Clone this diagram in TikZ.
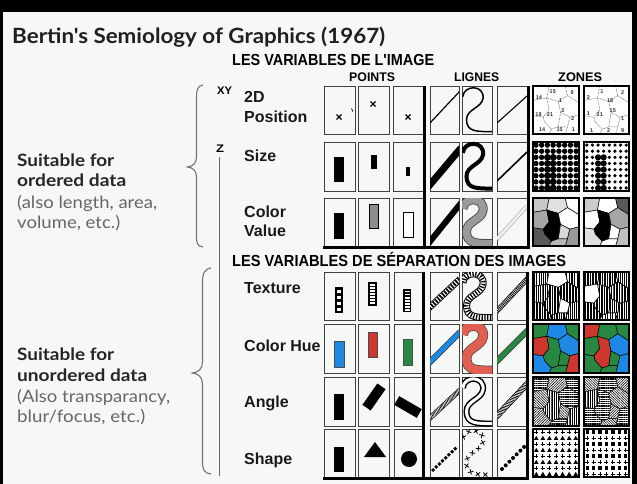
\documentclass[tikz,border=0pt]{standalone}
\usepackage{fontspec}
\usepackage{graphicx}
\setmainfont{Liberation Sans}
\newfontfamily\ralefont{Lato}
\newfontfamily\condfont[FakeStretch=0.82]{Liberation Sans}
\usetikzlibrary{decorations.markings,patterns.meta}

\definecolor{bg}{RGB}{246,248,246}
\definecolor{hueblue}{RGB}{30,136,229}
\definecolor{huered}{RGB}{205,55,45}
\definecolor{huegreen}{RGB}{40,135,65}
\definecolor{sred}{RGB}{225,95,80}

% stretch a text horizontally to a given width, keeping its height
\newcommand\fitw[2]{\resizebox{#1}{\height}{#2}}
% the S-shaped line, in unit cell coordinates
\newcommand\Scurve{(0.03,0.22) .. controls (0.06,-0.03) and (0.76,-0.03) .. (0.7,0.26) .. controls (0.65,0.46) and (0.15,0.48) .. (0.15,0.7) .. controls (0.15,0.96) and (0.5,0.95) .. (1.02,0.95)}
\newcommand\Scell[3]{\begin{scope}\clip (462,#1) rectangle (492,#1+#2);\begin{scope}[shift={(462,#1)},x=30pt,y=-#2pt]#3\end{scope}\end{scope}}
\newcommand\clipcell[5]{\begin{scope}\clip (#1,#2) rectangle (#3,#4);#5\end{scope}}
\newcommand\xmark[2]{\draw[line width=1.3pt] (#1-2.5,#2-2.5)--(#1+2.5,#2+2.5) (#1-2.5,#2+2.5)--(#1+2.5,#2-2.5);}
% a small map of ten regions in the unit square
\newcommand\drawmap{%
\path[medge,r1] (0,0)--(0.35,0)--(0.3,0.25)--(0,0.3)--cycle;
\path[medge,r2] (0.35,0)--(0.7,0)--(0.75,0.2)--(0.55,0.32)--(0.3,0.25)--cycle;
\path[medge,r3] (0.7,0)--(1,0)--(1,0.35)--(0.75,0.2)--cycle;
\path[medge,r4] (0,0.3)--(0.3,0.25)--(0.35,0.5)--(0.22,0.65)--(0,0.62)--cycle;
\path[medge,r5] (0.3,0.25)--(0.55,0.32)--(0.6,0.55)--(0.55,0.85)--(0.4,0.9)--(0.25,0.75)--(0.22,0.65)--(0.35,0.5)--cycle;
\path[medge,r6] (0.55,0.32)--(0.75,0.2)--(1,0.35)--(1,0.6)--(0.8,0.65)--(0.6,0.55)--cycle;
\path[medge,r7] (0,0.62)--(0.22,0.65)--(0.25,0.75)--(0.4,0.9)--(0.35,1)--(0,1)--cycle;
\path[medge,r8] (0.6,0.55)--(0.8,0.65)--(0.75,0.85)--(0.55,0.85)--cycle;
\path[medge,r9] (0.8,0.65)--(1,0.6)--(1,1)--(0.7,1)--(0.75,0.85)--cycle;
\path[medge,r10] (0.4,0.9)--(0.55,0.85)--(0.75,0.85)--(0.7,1)--(0.35,1)--cycle;
}
\newcommand\zone[5]{\begin{scope}\clip (#1,#2) rectangle ++(#3,#4);\fill[white] (#1,#2) rectangle ++(#3,#4);\begin{scope}[shift={(#1,#2)},x=#3pt,y=-#4pt,#5]\drawmap\end{scope}\end{scope}\draw[zonebox] (#1,#2) rectangle ++(#3,#4);}

\tikzset{
  cellbox/.style={draw=black!75, line width=0.8pt},
  thickrule/.style={line width=3pt, black},
  zonebox/.style={draw=black, line width=1.4pt},
  lefttxt/.style={anchor=base west, inner sep=0pt, font=\ralefont\fontsize{17}{20}\selectfont},
  rowlbl/.style={anchor=base west, inner sep=0pt, font=\bfseries\fontsize{16}{18}\selectfont, text=black!90},
  hdr/.style={anchor=base west, inner sep=0pt, font=\condfont\bfseries\fontsize{16}{18}\selectfont},
  colhdr/.style={anchor=base west, inner sep=0pt, font=\condfont\bfseries\fontsize{12.5}{14}\selectfont},
  axlbl/.style={anchor=base west, inner sep=0pt, font=\condfont\bfseries\fontsize{11}{13}\selectfont},
  numlbl/.style={inner sep=0pt, font=\bfseries\fontsize{5.5}{6}\selectfont, text=black!80},
  bracestyle/.style={draw=black!55, line width=1.1pt},
  r1/.style={}, r2/.style={}, r3/.style={}, r4/.style={}, r5/.style={},
  r6/.style={}, r7/.style={}, r8/.style={}, r9/.style={}, r10/.style={},
  medge/.style={draw=black, line width=0.5pt},
  vt/.style 2 args={pattern={Lines[angle=90,distance=#1,line width=#2]}, pattern color=black},
  vtw/.style={preaction={fill=black}, pattern={Lines[angle=90,distance=2.6pt,line width=0.9pt]}, pattern color=white},
  hat/.style={preaction={fill=white}, pattern={Lines[angle=#1,distance=1.8pt,line width=0.55pt]}, pattern color=black},
}

\begin{document}
\begin{tikzpicture}[x=1pt,y=-1pt]
\useasboundingbox (0,0) rectangle (637,484);
\fill[bg] (0,0) rectangle (637,484);
\fill[black] (0,0) rectangle (637,12);
\fill[black] (0,0) rectangle (3,484);
\fill[black] (632,0) rectangle (637,484);

% ---- title and side notes
\node[anchor=base west, inner sep=0pt, font=\ralefont\bfseries\fontsize{21}{25}\selectfont, text=black!88] (title) at (12,44) {\fitw{373pt}{Bertin's Semiology of Graphics (1967)}};

\node[lefttxt, text=black!85] (ordA) at (17,166) {\fitw{97pt}{\bfseries Suitable for}};
\node[lefttxt, text=black!85] (ordB) at (17,186) {\fitw{109pt}{\bfseries ordered data}};
\node[lefttxt, text=black!60] (ordC) at (17,208) {\fitw{140pt}{(also length, area,}};
\node[lefttxt, text=black!60] (ordD) at (17,228) {\fitw{103pt}{volume, etc.)}};
\node[lefttxt, text=black!85] (unoA) at (17,360) {\fitw{97pt}{\bfseries Suitable for}};
\node[lefttxt, text=black!85] (unoB) at (17,381) {\fitw{130pt}{\bfseries unordered data}};
\node[lefttxt, text=black!60] (unoC) at (17,402) {\fitw{153pt}{(Also transparancy,}};
\node[lefttxt, text=black!60] (unoD) at (17,422) {\fitw{128pt}{blur/focus, etc.)}};

% braces
\draw[bracestyle] (203,85) .. controls (197.5,86) and (196.5,90) .. (196.5,98) -- (196.5,157) .. controls (196.5,163) and (193,166.5) .. (187.5,167) .. controls (193,167.5) and (196.5,171) .. (196.5,177) -- (196.5,236) .. controls (196.5,244) and (197.5,246) .. (203,247);
\draw[bracestyle] (211,268) .. controls (204,269) and (202.5,274) .. (202.5,283) -- (202.5,362) .. controls (202.5,369) and (198,372.5) .. (192.5,373) .. controls (198,373.5) and (202.5,377) .. (202.5,384) -- (202.5,461) .. controls (202.5,470) and (204,473) .. (211,474);

% axis labels
\node[axlbl] (axXY) at (217,95) {\fitw{15pt}{XY}};
\node[axlbl] (axZ) at (216,153) {\fitw{8pt}{Z}};
\coordinate (zend) at (219.5,476);
\draw[black!60, line width=1.1pt] ([yshift=-4pt]axZ.south -| zend) -- (zend);

% headers
\node[hdr] (hdrA) at (232,66) {\fitw{202pt}{LES VARIABLES DE L'IMAGE}};
\node[hdr] (hdrB) at (232,266) {\fitw{334pt}{LES VARIABLES DE SÉPARATION DES IMAGES}};
\node[colhdr] (colP) at (349,82) {\fitw{46pt}{POINTS}};
\node[colhdr] (colL) at (454,82) {\fitw{45pt}{LIGNES}};
\node[colhdr] (colZ) at (558,82) {\fitw{44pt}{ZONES}};

% row labels
\node[rowlbl] (r2d) at (244,103) {2D};
\node[rowlbl] (rpos) at (244,123) {Position};
\node[rowlbl] (rsize) at (244,161) {Size};
\node[rowlbl] (rcol) at (244,217) {Color};
\node[rowlbl] (rval) at (244,236) {Value};
\node[rowlbl] (rtex) at (244,293) {Texture};
\node[rowlbl] (rhue) at (244,351) {Color Hue};
\node[rowlbl] (rang) at (244,407) {Angle};
\node[rowlbl] (rshp) at (244,464) {Shape};

% ---- cell frames
\foreach \xa/\xb in {324/355,358/389,393/423,430/459,462/492,497/527}
  \foreach \ya/\yb in {86/134,142/191,198/246}
    \draw[cellbox] (\xa,\ya) rectangle (\xb,\yb);
\foreach \xa/\xb in {324/355,358/389,394/422,430/459,462/492,497/527}
  \foreach \ya/\yb in {272/320,324/373,377/426,429/477}
    \draw[cellbox] (\xa,\ya) rectangle (\xb,\yb);

% ======== image variables: points
\xmark{339}{117}
\xmark{373}{104}
\xmark{408}{117}
\draw[line width=0.8pt] (351.5,108.5)--(352.8,111.5);
\fill (334,157) rectangle (344,182);
\fill (371,155) rectangle (377,169);
\fill (406,167) rectangle (410,176);
\fill (334,213) rectangle (344,239);
\filldraw[fill=black!45, draw=black, line width=0.8pt] (369,204) rectangle (378,228);
\filldraw[fill=white, draw=black, line width=0.9pt] (403,212) rectangle (413,237);

% ======== image variables: lines
\clipcell{430}{86}{459}{134}{\draw[line width=1.2pt] (430,123)--(460,91);}
\Scell{86}{48}{\draw[line width=1.5pt] \Scurve;}
\clipcell{497}{86}{527}{134}{\draw[line width=1.1pt] (497,123)--(527,96);}
\clipcell{430}{142}{459}{191}{\draw[line width=7pt] (428,187)--(461,148);}
\Scell{142}{49}{\draw[line width=4pt] \Scurve;}
\clipcell{497}{142}{527}{191}{\draw[line width=1.6pt] (497,181)--(527,152);}
\clipcell{430}{198}{459}{246}{\draw[line width=6pt] (428,244)--(461,203);}
\Scell{198}{48}{\draw[line width=9pt, black!75] \Scurve; \draw[line width=7.4pt, black!40] \Scurve;}
\clipcell{497}{198}{527}{246}{\draw[line width=4pt, black!30] (497,239)--(527,206); \draw[line width=2.6pt, black!6] (497,239)--(527,206);}

% ======== image variables: zones
% numbered map
\begin{scope}
\clip (533,86) rectangle (579,134);
\fill[white] (533,86) rectangle (579,134);
\begin{scope}[shift={(533,86)},x=46pt,y=-48pt,medge/.style={draw=black!60,line width=0.45pt,densely dotted}]
\drawmap
\foreach \px/\py/\t [count=\n] in {0.13/0.25/14,0.43/0.12/15,0.85/0.14/9,0.6/0.3/1,0.12/0.6/18,0.37/0.6/21,0.65/0.52/2,0.86/0.68/2,0.2/0.9/14,0.58/0.9/15,0.88/0.9/1}
  \node[numlbl] (za\n) at (\px,\py) {\t};
\end{scope}
\end{scope}
\draw[zonebox] (533,86) rectangle (579,134);
\begin{scope}
\clip (584,86) rectangle (629,134);
\fill[white] (584,86) rectangle (629,134);
\begin{scope}[shift={(584,86)},x=45pt,y=-48pt,medge/.style={draw=black!60,line width=0.45pt,densely dotted}]
\drawmap
\foreach \px/\py/\t [count=\n] in {0.1/0.25/2,0.4/0.12/1,0.58/0.3/18,0.86/0.14/2,0.1/0.57/1,0.35/0.6/21,0.64/0.52/15,0.86/0.68/1,0.17/0.92/1,0.55/0.92/2,0.86/0.92/9}
  \node[numlbl] (zb\n) at (\px,\py) {\t};
\end{scope}
\end{scope}
\draw[zonebox] (584,86) rectangle (629,134);

% halftone dots
\begin{scope}
\clip (533,142) rectangle (579,191);
\fill[white] (533,142) rectangle (579,191);
\foreach \i in {0,...,7}{\foreach \j in {0,...,7}{
  \pgfmathsetmacro\rr{and(abs(\i-2.5)<1, and(\j>1.5,\j<7.5)) ? 3.4 : 2.7}
  \fill (535.9+5.75*\i, 145.1+6.125*\j) circle[radius=\rr];
}}
\end{scope}
\draw[zonebox] (533,142) rectangle (579,191);
\begin{scope}
\clip (584,142) rectangle (629,191);
\fill[white] (584,142) rectangle (629,191);
\foreach \i in {0,...,7}{\foreach \j in {0,...,7}{
  \pgfmathsetmacro\rr{and(abs(\i-2.5)<1, and(\j>1.5,\j<7.5)) ? 3.1 : 1.8}
  \fill (586.8+5.63*\i, 145.1+6.125*\j) circle[radius=\rr];
}}
\end{scope}
\draw[zonebox] (584,142) rectangle (629,191);

% grey values
\zone{533}{198}{46}{48}{r1/.style={fill=black!22}, r2/.style={fill=black!12}, r3/.style={fill=white}, r4/.style={fill=black!35}, r5/.style={fill=black}, r6/.style={fill=white}, r7/.style={fill=black!65}, r8/.style={fill=black!15}, r9/.style={fill=black!40}, r10/.style={fill=black!28}}
\zone{584}{198}{45}{48}{r1/.style={fill=black!20}, r2/.style={fill=white}, r3/.style={fill=black!65}, r4/.style={fill=white}, r5/.style={fill=black}, r6/.style={fill=black!35}, r7/.style={fill=black!12}, r8/.style={fill=white}, r9/.style={fill=black!25}, r10/.style={fill=white}}

% ---- heavy rules of the first table
\draw[thickrule] (424.5,86) -- (424.5,248.5);
\draw[thickrule] (528,86) -- (528,248.5);
\draw[thickrule] (323,247) -- (529.5,247);

% ======== separation variables: points
\fill (335,287) rectangle (343,313);
\foreach \k in {0,...,3} \fill[white] (336.6,289.5+6*\k) rectangle (341.4,292.5+6*\k);
\fill (368,282) rectangle (377,306);
\foreach \k in {0,...,6} \fill[white] (369.6,284+3*\k) rectangle (375.4,285.5+3*\k);
\fill (403,289) rectangle (411,312);
\foreach \k in {0,...,6} \fill[white] (404.5,291+3.05*\k) rectangle (409.5,292.4+3.05*\k);

\filldraw[fill=hueblue, draw=black!70, line width=0.8pt] (334,341) rectangle (344,367);
\filldraw[fill=huered, draw=black!70, line width=0.8pt] (368,332) rectangle (377,357);
\filldraw[fill=huegreen, draw=black!70, line width=0.8pt] (403,339) rectangle (412,365);

\fill (334,394) rectangle (344,420);
\fill[rotate around={-35:(374,397)}] (369,384) rectangle (379,410);
\fill[rotate around={60:(408,407)}] (403,394) rectangle (413,420);

\fill (334,447) rectangle (344,472);
\fill (375,442) -- (386,457) -- (364,457) -- cycle;
\fill (409,459) circle[radius=8];

% ======== separation variables: lines
\clipcell{430}{272}{459}{320}{
  \draw[line width=6.5pt] (429,308)--(460,279);
  \draw[white, line width=4.8pt] (429,308)--(460,279);
  \draw[line width=4.8pt, dash pattern=on 1.7pt off 1.4pt] (429,308)--(460,279);}
\Scell{272}{48}{\draw[line width=7pt] \Scurve; \draw[white, line width=5pt] \Scurve; \draw[line width=5pt, dash pattern=on 1.3pt off 1.5pt] \Scurve;}
\clipcell{497}{272}{527}{320}{
  \draw[line width=5pt] (496,312)--(528,278);
  \draw[white, line width=3.6pt] (496,312)--(528,278);
  \draw[line width=3.6pt, dash pattern=on 0.8pt off 0.9pt] (496,312)--(528,278);}

\clipcell{430}{324}{459}{373}{
  \draw[line width=6pt, black!80] (429,363)--(460,332);
  \draw[line width=4.6pt, hueblue] (429,363)--(460,332);}
\Scell{324}{49}{\draw[line width=10pt, black!70] \Scurve; \draw[line width=8.5pt, sred] \Scurve;}
\clipcell{497}{324}{527}{373}{
  \draw[line width=6pt, black!80] (496,362)--(528,330);
  \draw[line width=4.6pt, huegreen] (496,362)--(528,330);}

\clipcell{430}{377}{459}{426}{
  \draw[line width=5pt] (429,419)--(460,390);
  \draw[white, line width=3.6pt] (429,419)--(460,390);
  \path[postaction={decorate}, decoration={markings, mark=between positions 0 and 1 step 1.6pt with {\draw[line width=0.6pt] (-0.9pt,-1.8pt)--(0.9pt,1.8pt);}}] (429,419)--(460,390);}
\Scell{377}{49}{\draw[line width=6pt] \Scurve; \draw[white, line width=3pt] \Scurve;}
\clipcell{497}{377}{527}{426}{
  \draw[line width=6pt] (496,417)--(528,383);
  \draw[white, line width=4.4pt] (496,417)--(528,383);
  \path[postaction={decorate}, decoration={markings, mark=between positions 0 and 1 step 1.8pt with {\draw[line width=0.7pt] (1.2pt,-2.2pt)--(-1.2pt,2.2pt);}}] (496,417)--(528,383);}

\path[postaction={decorate}, decoration={markings, mark=between positions 0.04 and 1 step 4.4pt with {\fill (-1.4pt,-1.4pt) rectangle (1.4pt,1.4pt);}}] (432,471)--(458,446);
\Scell{429}{48}{\path[postaction={decorate}, decoration={markings, mark=between positions 0.03 and 1 step 7.5pt with {\draw[line width=0.8pt] (-2pt,-2pt)--(2pt,2pt) (-2pt,2pt)--(2pt,-2pt);}}] \Scurve;}
\path[postaction={decorate}, decoration={markings, mark=between positions 0.04 and 1 step 5.2pt with {\fill (0,0) circle[radius=2pt];}}] (501,470)--(526,445);

% ======== separation variables: zones
\zone{533}{272}{46}{48}{r1/.style={vt={2.2pt}{1pt}}, r2/.style={fill=white}, r3/.style={vt={2.6pt}{1.3pt}}, r4/.style={vt={1.8pt}{0.6pt}}, r5/.style={vtw}, r6/.style={vt={3pt}{1.6pt}}, r7/.style={vt={1.6pt}{0.7pt}}, r8/.style={fill=white}, r9/.style={vt={2pt}{1pt}}, r10/.style={vt={2.4pt}{1.4pt}}}
\zone{584}{272}{45}{48}{r1/.style={vt={1.6pt}{0.7pt}}, r2/.style={vt={2.5pt}{1.2pt}}, r3/.style={vt={2pt}{0.9pt}}, r4/.style={fill=white}, r5/.style={vtw}, r6/.style={vt={1.6pt}{0.6pt}}, r7/.style={vt={3pt}{1.5pt}}, r8/.style={vt={2pt}{0.8pt}}, r9/.style={vt={1.8pt}{0.7pt}}, r10/.style={vt={2.5pt}{1pt}}}

\zone{533}{324}{46}{49}{r1/.style={fill=huegreen}, r2/.style={fill=hueblue}, r3/.style={fill=huegreen}, r4/.style={fill=huered}, r5/.style={fill=huegreen}, r6/.style={fill=hueblue}, r7/.style={fill=hueblue}, r8/.style={fill=huegreen}, r9/.style={fill=huered}, r10/.style={fill=huegreen}}
\zone{584}{324}{45}{49}{r1/.style={fill=huered}, r2/.style={fill=huegreen}, r3/.style={fill=huegreen}, r4/.style={fill=huegreen}, r5/.style={fill=huered}, r6/.style={fill=hueblue}, r7/.style={fill=huegreen}, r8/.style={fill=huegreen}, r9/.style={fill=hueblue}, r10/.style={fill=huegreen}}

\zone{533}{377}{46}{49}{r1/.style={hat=0}, r2/.style={hat=45}, r3/.style={hat=0}, r4/.style={hat=135}, r5/.style={hat=90}, r6/.style={hat=0}, r7/.style={hat=45}, r8/.style={hat=135}, r9/.style={hat=90}, r10/.style={hat=0}}
\zone{584}{377}{45}{49}{r1/.style={hat=135}, r2/.style={hat=0}, r3/.style={hat=45}, r4/.style={hat=90}, r5/.style={hat=0}, r6/.style={hat=135}, r7/.style={hat=0}, r8/.style={hat=45}, r9/.style={hat=0}, r10/.style={hat=135}}

\begin{scope}
\clip (533,429) rectangle (579,477);
\fill[white] (533,429) rectangle (579,477);
\foreach \i in {0,...,6}{\foreach \j in {0,...,7}{
  \pgfmathsetmacro\cx{536.3+6.57*\i}
  \pgfmathsetmacro\cy{432+6*\j}
  \ifodd\j \fill (\cx,\cy-2.2)--(\cx+2.3,\cy+1.8)--(\cx-2.3,\cy+1.8)--cycle;
  \else \draw[line width=1pt] (\cx-2,\cy)--(\cx+2,\cy) (\cx,\cy-2)--(\cx,\cy+2); \fi
}}
\end{scope}
\draw[zonebox] (533,429) rectangle (579,477);
\begin{scope}
\clip (584,429) rectangle (629,477);
\fill[white] (584,429) rectangle (629,477);
\foreach \i in {0,...,6}{\foreach \j in {0,...,7}{
  \pgfmathsetmacro\cx{587.2+6.43*\i}
  \pgfmathsetmacro\cy{432+6*\j}
  \ifodd\j \draw[line width=1pt] (\cx-2,\cy)--(\cx+2,\cy) (\cx,\cy-2)--(\cx,\cy+2);
  \else \fill (\cx-1.7,\cy-1.7) rectangle (\cx+1.7,\cy+1.7); \fi
}}
\end{scope}
\draw[zonebox] (584,429) rectangle (629,477);

% ---- heavy rules of the second table
\draw[thickrule] (423.5,272) -- (423.5,480);
\draw[thickrule] (527.5,272) -- (527.5,480);
\draw[thickrule] (323,478.5) -- (529,478.5);
\end{tikzpicture}
\end{document}
